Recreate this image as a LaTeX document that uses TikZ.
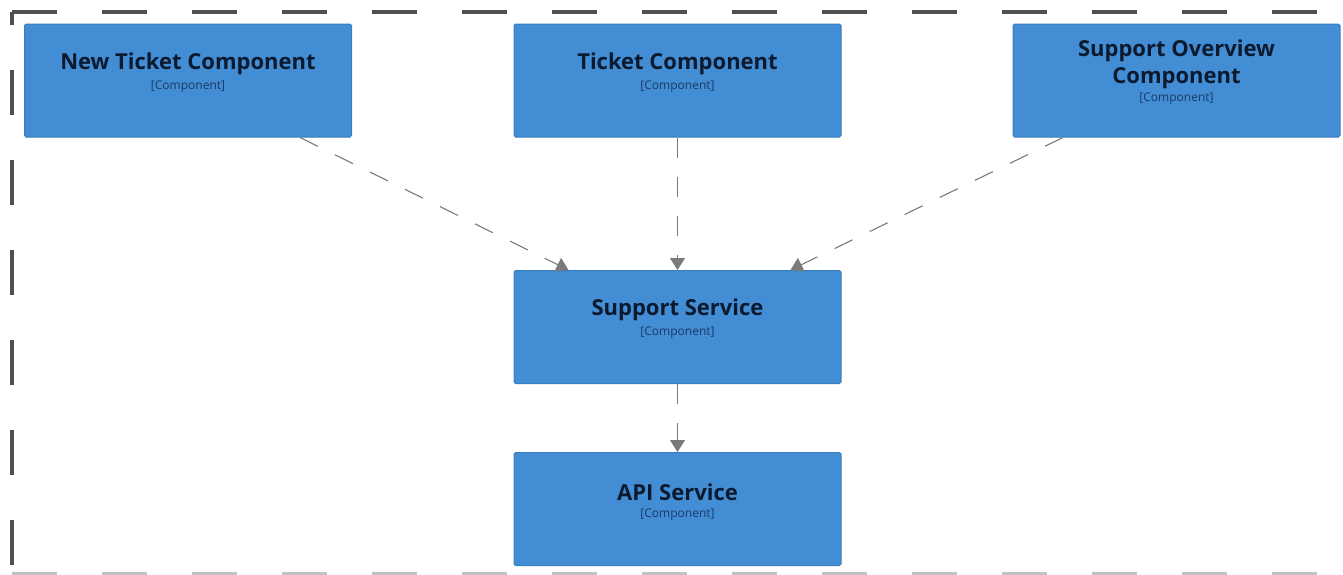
\documentclass[tikz,border=0pt]{standalone}
\usepackage{fontspec}
\setmainfont{Open Sans}
\usetikzlibrary{arrows.meta}
\definecolor{boxblue}{HTML}{438DD5}
\definecolor{boxedge}{HTML}{3A7CC0}
\definecolor{txtdark}{HTML}{0B1A2E}
\definecolor{subtxt}{HTML}{1A3A66}
\definecolor{arrowgray}{HTML}{7A7A7A}
\definecolor{framegray}{HTML}{505050}
\begin{document}
\begin{tikzpicture}[x=1pt,y=-1pt,
  compbox/.style={draw=boxedge,fill=boxblue,line width=1pt,rounded corners=1.5pt,
    minimum width=327pt,minimum height=113pt,inner sep=0pt},
  titletext/.style={font=\fontsize{22}{27}\selectfont\bfseries,text=txtdark,align=center,inner sep=0pt},
  subtext/.style={font=\fontsize{12}{14}\selectfont,text=subtxt,inner sep=0pt},
  rel/.style={draw=arrowgray,line width=1.1pt,dash pattern=on 20pt off 19pt,
    -{Triangle[length=12pt,width=15pt]}},
  framestyle/.style={draw=framegray,line width=3.5pt,dash pattern=on 45pt off 45pt}
]
\useasboundingbox (0,0) rectangle (1343,574);
\begin{scope}
\clip (0,0) rectangle (1343,574);
% boundary
\coordinate (tl) at (12,12);
\coordinate (tr) at (1343,12);
\coordinate (bl) at (12,574);
\coordinate (br) at (1343,574);
\draw[framestyle] (tl) -- (tr);
\draw[framestyle,dash phase=32pt] (tl) -- (bl);
\draw[framestyle,draw=framegray!35] (bl) -- (br);
\end{scope}

% boxes
\node[compbox] (nt) at (188,80.5) {};
\node[compbox] (tc) at (677.5,80.5) {};
\node[compbox] (so) at (1176.5,80.5) {};
\node[compbox] (ss) at (677.5,327) {};
\node[compbox] (api) at (677.5,509) {};

% texts
\node[titletext] (ntT) at ([yshift=-40pt]nt.north) {New Ticket Component};
\node[subtext] (ntS) at ([yshift=-63pt]nt.north) {[Component]};
\node[titletext] (tcT) at ([yshift=-40pt]tc.north) {Ticket Component};
\node[subtext] (tcS) at ([yshift=-63pt]tc.north) {[Component]};
\node[titletext] (soT) at ([yshift=-40.5pt]so.north) {Support Overview\\Component};
\node[subtext] (soS) at ([yshift=-75pt]so.north) {[Component]};
\node[titletext] (ssT) at ([yshift=-40pt]ss.north) {Support Service};
\node[subtext] (ssS) at ([yshift=-63pt]ss.north) {[Component]};
\node[titletext] (apiT) at ([yshift=-40pt]api.north) {API Service};
\node[subtext] (apiS) at ([yshift=-63pt]api.north) {[Component]};

% relations
\draw[rel] ([xshift=112pt]nt.south) -- ([xshift=-109pt]ss.north);
\draw[rel] (tc.south) -- (ss.north);
\draw[rel] ([xshift=-113.5pt]so.south) -- ([xshift=113pt]ss.north);
\draw[rel] (ss.south) -- (api.north);
\end{tikzpicture}
\end{document}
